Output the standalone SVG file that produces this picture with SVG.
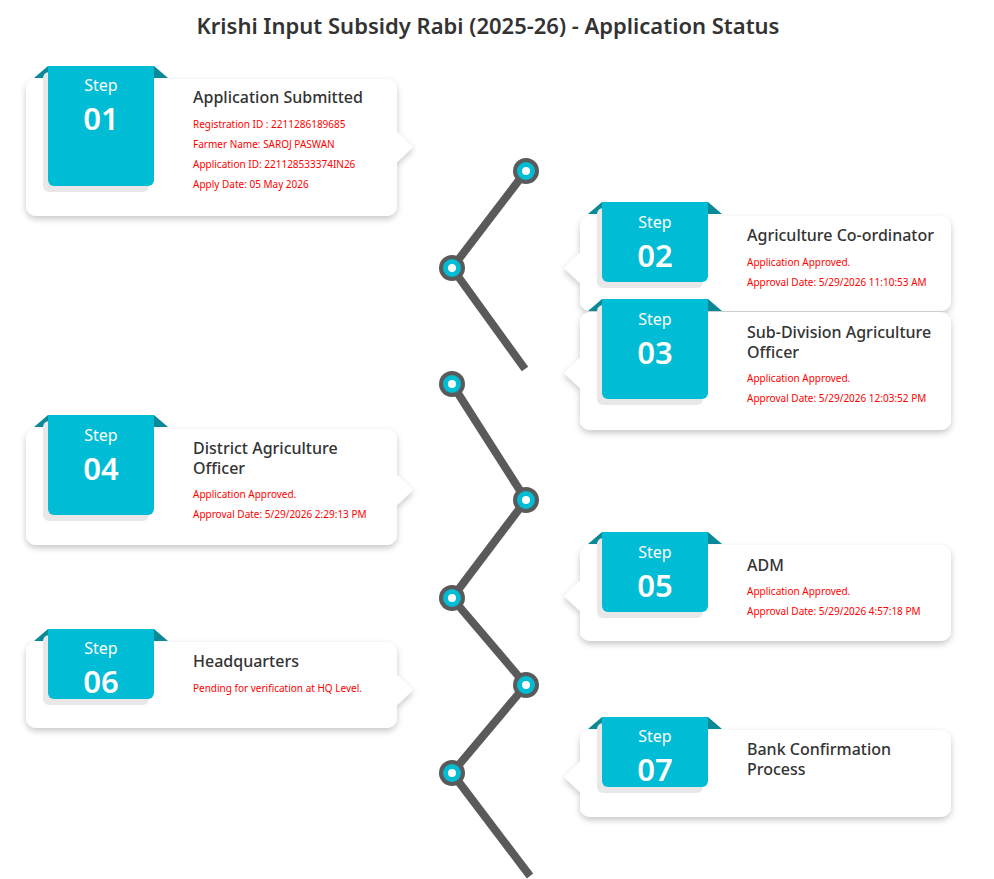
<svg xmlns="http://www.w3.org/2000/svg" width="994" height="879" viewBox="0 0 994 879">
<style>
.bg{fill:#ffffff}
.card{fill:#ffffff}
.box{fill:#00bcd4}
.boxsh{fill:#e8e8e8}
.fold{fill:#0a8a96}
.step{font-family:"Noto Sans","Open Sans",sans-serif;font-size:16px;fill:#ffffff;text-anchor:middle}
.num{font-family:"Noto Sans","Open Sans",sans-serif;font-size:31px;font-weight:600;fill:#ffffff;text-anchor:middle}
.ttl{font-family:"Noto Sans","Open Sans",sans-serif;font-size:16px;font-weight:500;fill:#333333}
.red{font-family:"Noto Sans","Open Sans",sans-serif;font-size:10px;fill:#ff0000}
.head{font-family:"Noto Sans","Open Sans",sans-serif;font-size:22px;font-weight:600;fill:#333333;text-anchor:middle}
.seg{stroke:#5a5a5a;stroke-width:8;fill:none}
.ring{fill:#5a5a5a}
.dot{fill:#00bcd4}
.hole{fill:#ffffff}
</style>
<defs>
<filter id="sh" x="-10%" y="-20%" width="120%" height="150%">
<feDropShadow dx="0" dy="3" stdDeviation="3" flood-color="#000" flood-opacity="0.22"/>
</filter>
</defs>
<rect class="bg" x="0" y="0" width="994" height="879"/>
<text class="head" x="488" y="34">Krishi Input Subsidy Rabi (2025-26) - Application Status</text>

<g id="connectors">
<line class="seg" x1="526" y1="171" x2="452" y2="268"/>
<line class="seg" x1="452" y1="268" x2="525" y2="369"/>
<line class="seg" x1="452" y1="384" x2="526" y2="500"/>
<line class="seg" x1="526" y1="500" x2="452" y2="598"/>
<line class="seg" x1="452" y1="598" x2="526" y2="685"/>
<line class="seg" x1="526" y1="685" x2="452" y2="773"/>
<line class="seg" x1="452" y1="773" x2="530" y2="876"/>
</g>
<g id="timeline-dots">
<circle class="ring" cx="526" cy="171" r="13"/><circle class="dot" cx="526" cy="171" r="9"/><circle class="hole" cx="526" cy="171" r="4"/>
<circle class="ring" cx="452" cy="268" r="13"/><circle class="dot" cx="452" cy="268" r="9"/><circle class="hole" cx="452" cy="268" r="4"/>
<circle class="ring" cx="452" cy="384" r="13"/><circle class="dot" cx="452" cy="384" r="9"/><circle class="hole" cx="452" cy="384" r="4"/>
<circle class="ring" cx="526" cy="500" r="13"/><circle class="dot" cx="526" cy="500" r="9"/><circle class="hole" cx="526" cy="500" r="4"/>
<circle class="ring" cx="452" cy="598" r="13"/><circle class="dot" cx="452" cy="598" r="9"/><circle class="hole" cx="452" cy="598" r="4"/>
<circle class="ring" cx="526" cy="685" r="13"/><circle class="dot" cx="526" cy="685" r="9"/><circle class="hole" cx="526" cy="685" r="4"/>
<circle class="ring" cx="452" cy="773" r="13"/><circle class="dot" cx="452" cy="773" r="9"/><circle class="hole" cx="452" cy="773" r="4"/>
</g>

<g id="step01">
<g filter="url(#sh)"><rect class="card" x="26" y="79" width="371" height="137" rx="10"/><polygon class="card" points="396,131 413,147 396,163"/></g>
<polygon class="fold" points="34,78 48,66 48,78"/><polygon class="fold" points="154,66 168,78 154,78"/>
<rect class="boxsh" x="43" y="72" width="106" height="120" rx="6"/>
<path class="box" d="M48,66 H154 V180 a6,6 0 0 1 -6,6 H54 a6,6 0 0 1 -6,-6 Z"/>
<text class="step" x="101" y="91">Step</text><text class="num" x="101" y="130">01</text>
<text class="ttl" x="193" y="103">Application Submitted</text>
<text class="red" x="193" y="128">Registration ID : 2211286189685</text>
<text class="red" x="193" y="148">Farmer Name: SAROJ PASWAN</text>
<text class="red" x="193" y="168">Application ID: 221128533374IN26</text>
<text class="red" x="193" y="188">Apply Date: 05 May 2026</text>
</g>

<g id="step02">
<g filter="url(#sh)"><rect class="card" x="580" y="216" width="371" height="95" rx="10"/><polygon class="card" points="581,252 564,268 581,284"/></g>
<polygon class="fold" points="588,214 602,202 602,214"/><polygon class="fold" points="708,202 722,214 708,214"/>
<rect class="boxsh" x="597" y="208" width="106" height="80" rx="6"/>
<path class="box" d="M602,202 H708 V276 a6,6 0 0 1 -6,6 H608 a6,6 0 0 1 -6,-6 Z"/>
<text class="step" x="655" y="228">Step</text><text class="num" x="655" y="267">02</text>
<text class="ttl" x="747" y="241">Agriculture Co-ordinator</text>
<text class="red" x="747" y="266">Application Approved.</text>
<text class="red" x="747" y="286">Approval Date: 5/29/2026 11:10:53 AM</text>
</g>

<g id="step03">
<g filter="url(#sh)"><rect class="card" x="580" y="312" width="371" height="118" rx="10"/><polygon class="card" points="581,357 564,373 581,389"/></g>
<polygon class="fold" points="588,311 602,299 602,311"/><polygon class="fold" points="708,299 722,311 708,311"/>
<rect class="boxsh" x="597" y="305" width="106" height="100" rx="6"/>
<path class="box" d="M602,299 H708 V393 a6,6 0 0 1 -6,6 H608 a6,6 0 0 1 -6,-6 Z"/>
<text class="step" x="655" y="325">Step</text><text class="num" x="655" y="364">03</text>
<text class="ttl" x="747" y="338">Sub-Division Agriculture</text>
<text class="ttl" x="747" y="358">Officer</text>
<text class="red" x="747" y="382">Application Approved.</text>
<text class="red" x="747" y="402">Approval Date: 5/29/2026 12:03:52 PM</text>
</g>

<g id="step04">
<g filter="url(#sh)"><rect class="card" x="26" y="429" width="371" height="116" rx="10"/><polygon class="card" points="396,474 413,490 396,506"/></g>
<polygon class="fold" points="34,427 48,415 48,427"/><polygon class="fold" points="154,415 168,427 154,427"/>
<rect class="boxsh" x="43" y="421" width="106" height="100" rx="6"/>
<path class="box" d="M48,415 H154 V509 a6,6 0 0 1 -6,6 H54 a6,6 0 0 1 -6,-6 Z"/>
<text class="step" x="101" y="441">Step</text><text class="num" x="101" y="480">04</text>
<text class="ttl" x="193" y="454">District Agriculture</text>
<text class="ttl" x="193" y="474">Officer</text>
<text class="red" x="193" y="498">Application Approved.</text>
<text class="red" x="193" y="518">Approval Date: 5/29/2026 2:29:13 PM</text>
</g>

<g id="step05">
<g filter="url(#sh)"><rect class="card" x="580" y="545" width="371" height="96" rx="10"/><polygon class="card" points="581,580 564,596 581,612"/></g>
<polygon class="fold" points="588,544 602,532 602,544"/><polygon class="fold" points="708,532 722,544 708,544"/>
<rect class="boxsh" x="597" y="538" width="106" height="80" rx="6"/>
<path class="box" d="M602,532 H708 V606 a6,6 0 0 1 -6,6 H608 a6,6 0 0 1 -6,-6 Z"/>
<text class="step" x="655" y="558">Step</text><text class="num" x="655" y="597">05</text>
<text class="ttl" x="747" y="571">ADM</text>
<text class="red" x="747" y="595">Application Approved.</text>
<text class="red" x="747" y="615">Approval Date: 5/29/2026 4:57:18 PM</text>
</g>

<g id="step06">
<g filter="url(#sh)"><rect class="card" x="26" y="642" width="371" height="86" rx="10"/><polygon class="card" points="396,674 413,690 396,706"/></g>
<polygon class="fold" points="34,641 48,629 48,641"/><polygon class="fold" points="154,629 168,641 154,641"/>
<rect class="boxsh" x="43" y="635" width="106" height="70" rx="6"/>
<path class="box" d="M48,629 H154 V693 a6,6 0 0 1 -6,6 H54 a6,6 0 0 1 -6,-6 Z"/>
<text class="step" x="101" y="654">Step</text><text class="num" x="101" y="693">06</text>
<text class="ttl" x="193" y="667">Headquarters</text>
<text class="red" x="193" y="692">Pending for verification at HQ Level.</text>
</g>

<g id="step07">
<g filter="url(#sh)"><rect class="card" x="580" y="730" width="371" height="87" rx="10"/><polygon class="card" points="581,761 564,777 581,793"/></g>
<polygon class="fold" points="588,729 602,717 602,729"/><polygon class="fold" points="708,717 722,729 708,729"/>
<rect class="boxsh" x="597" y="723" width="106" height="70" rx="6"/>
<path class="box" d="M602,717 H708 V781 a6,6 0 0 1 -6,6 H608 a6,6 0 0 1 -6,-6 Z"/>
<text class="step" x="655" y="742">Step</text><text class="num" x="655" y="781">07</text>
<text class="ttl" x="747" y="755">Bank Confirmation</text>
<text class="ttl" x="747" y="775">Process</text>
</g>
</svg>
